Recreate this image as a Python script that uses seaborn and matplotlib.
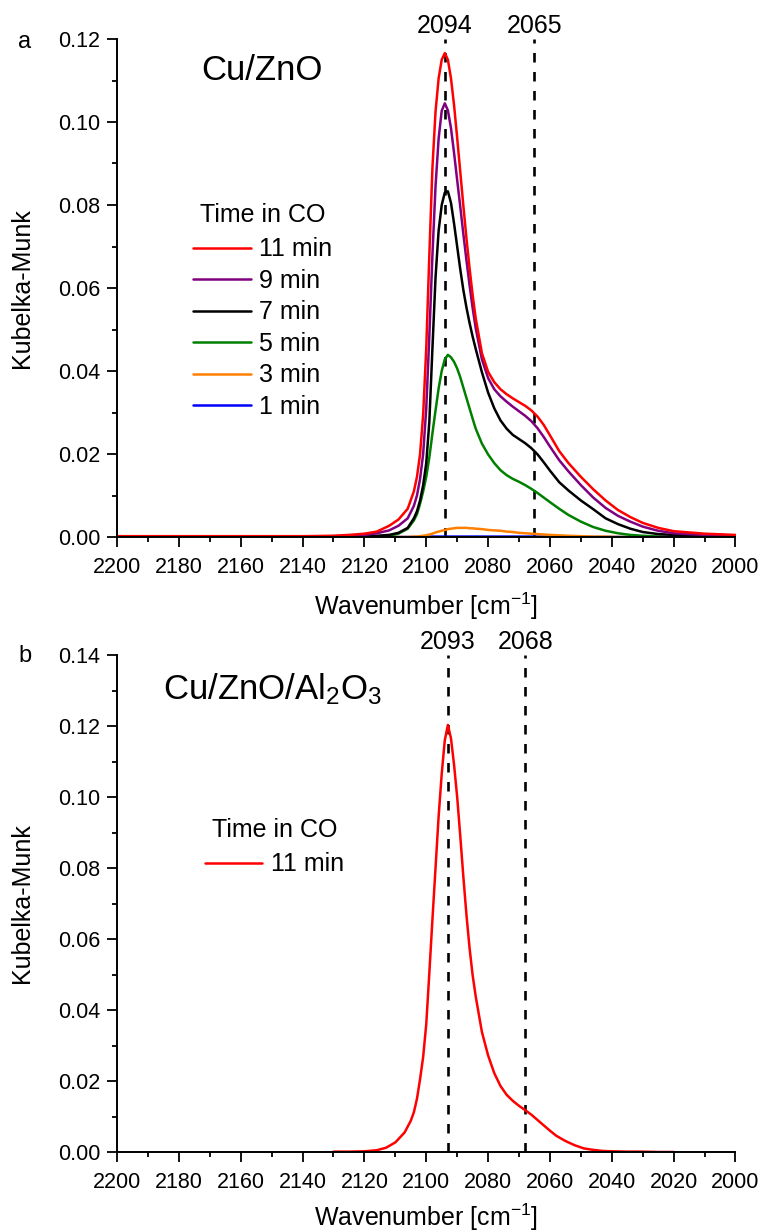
import numpy as np
import pandas as pd
import matplotlib
matplotlib.use("Agg")
import matplotlib.pyplot as plt
from matplotlib.ticker import MultipleLocator, FormatStrFormatter
import seaborn as sns

# ---------------- data ----------------
wn_a = [2200, 2180, 2160, 2140, 2130, 2125, 2120, 2116, 2112, 2109, 2106, 2104, 2103,
        2102, 2101, 2100, 2099, 2098, 2097, 2096, 2095, 2094, 2093, 2092, 2091, 2090,
        2089, 2088, 2087, 2086, 2085, 2084, 2082, 2080, 2078, 2076, 2074, 2072, 2070,
        2068, 2066, 2064, 2062, 2060, 2057, 2054, 2050, 2046, 2042, 2038, 2034, 2030,
        2025, 2020, 2010, 2000]

km_11min = [0.0002, 0.0002, 0.0002, 0.0002, 0.0003, 0.0005, 0.0008, 0.0013, 0.0027, 0.0042,
            0.0068, 0.0110, 0.0145, 0.0200, 0.0295, 0.0455, 0.0680, 0.0890, 0.1025, 0.1105,
            0.1150, 0.1166, 0.1150, 0.1105, 0.1040, 0.0962, 0.0880, 0.0798, 0.0720, 0.0648,
            0.0583, 0.0527, 0.0443, 0.0398, 0.0373, 0.0356, 0.0344, 0.0334, 0.0325, 0.0316,
            0.0305, 0.0290, 0.0270, 0.0245, 0.0207, 0.0178, 0.0145, 0.0115, 0.0088, 0.0065,
            0.0048, 0.0034, 0.0022, 0.0014, 0.0008, 0.0005]

km_9min = [0.0001, 0.0001, 0.0001, 0.0001, 0.0002, 0.0003, 0.0005, 0.0009, 0.0016, 0.0027,
           0.0045, 0.0075, 0.0100, 0.0140, 0.0200, 0.0310, 0.0485, 0.0680, 0.0845, 0.0960,
           0.1027, 0.1045, 0.1028, 0.0985, 0.0925, 0.0860, 0.0796, 0.0730, 0.0667, 0.0607,
           0.0552, 0.0503, 0.0428, 0.0383, 0.0356, 0.0339, 0.0326, 0.0314, 0.0303, 0.0292,
           0.0279, 0.0262, 0.0241, 0.0218, 0.0185, 0.0158, 0.0125, 0.0095, 0.0070, 0.0051,
           0.0037, 0.0025, 0.0015, 0.0009, 0.0005, 0.0004]

km_7min = [0.0001, 0.0001, 0.0001, 0.0001, 0.0001, 0.0001, 0.0002, 0.0003, 0.0005, 0.0010,
           0.0022, 0.0045, 0.0062, 0.0088, 0.0125, 0.0178, 0.0278, 0.0455, 0.0625, 0.0738,
           0.0800, 0.0830, 0.0833, 0.0805, 0.0755, 0.0700, 0.0645, 0.0595, 0.0553, 0.0516,
           0.0483, 0.0453, 0.0397, 0.0348, 0.0310, 0.0281, 0.0261, 0.0246, 0.0236, 0.0226,
           0.0214, 0.0199, 0.0180, 0.0160, 0.0132, 0.0112, 0.0088, 0.0067, 0.0045, 0.0031,
           0.0020, 0.0012, 0.0007, 0.0005, 0.0003, 0.0002]

km_5min = [0.0, 0.0, 0.0, 0.0, 0.0, 0.0, 0.0, 0.0001, 0.0003, 0.0008,
           0.0020, 0.0040, 0.0055, 0.0080, 0.0110, 0.0145, 0.0192, 0.0250, 0.0305, 0.0358,
           0.0400, 0.0428, 0.0439, 0.0433, 0.0422, 0.0406, 0.0385, 0.0360, 0.0335, 0.0310,
           0.0285, 0.0261, 0.0225, 0.0199, 0.0178, 0.0161, 0.0149, 0.0140, 0.0133, 0.0125,
           0.0116, 0.0106, 0.0095, 0.0084, 0.0068, 0.0053, 0.0037, 0.0024, 0.0015, 0.0009,
           0.0005, 0.0003, 0.0001, 0.0, 0.0, 0.0]

km_3min = [0.0, 0.0, 0.0, 0.0, 0.0, 0.0, 0.0, 0.0, 0.0, 0.0,
           0.0, 0.0001, 0.0001, 0.0002, 0.0003, 0.0004, 0.0006, 0.0008, 0.0011, 0.0013,
           0.0015, 0.0017, 0.0019, 0.0020, 0.0021, 0.0022, 0.0022, 0.0022, 0.0022, 0.0021,
           0.0021, 0.0020, 0.0019, 0.0017, 0.0016, 0.0015, 0.0013, 0.0012, 0.0010, 0.0009,
           0.0008, 0.0007, 0.0006, 0.0005, 0.0004, 0.0003, 0.0002, 0.0001, 0.0001, 0.0,
           0.0, 0.0, 0.0, 0.0, 0.0, 0.0]

km_1min = [0.0, 0.0, 0.0, 0.0, 0.0, 0.0, 0.0, 0.0, 0.0, 0.0,
           0.0, 0.0, 0.0, 0.0, 0.0001, 0.0001, 0.0001, 0.0001, 0.0001, 0.0001,
           0.0001, 0.0001, 0.0001, 0.0001, 0.0001, 0.0001, 0.0001, 0.0001, 0.0001, 0.0001,
           0.0001, 0.0001, 0.0001, 0.0001, 0.0001, 0.0001, 0.0001, 0.0001, 0.0001, 0.0001,
           0.0001, 0.0001, 0.0001, 0.0001, 0.0, 0.0, 0.0, 0.0, 0.0, 0.0,
           0.0, 0.0, 0.0, 0.0, 0.0, 0.0]

series_labels_a = ["11 min", "9 min", "7 min", "5 min", "3 min", "1 min"]
series_colors_a = ["#FF0000", "#800080", "#000000", "#008000", "#FF8000", "#0000FF"]

wn_b = [2130, 2125, 2120, 2116, 2113, 2110, 2107, 2105, 2104, 2103, 2102, 2101, 2100,
        2099, 2098, 2097, 2096, 2095, 2094, 2093, 2092, 2091, 2090, 2089, 2088, 2087,
        2086, 2085, 2084, 2082, 2080, 2078, 2076, 2074, 2072, 2070, 2068, 2066, 2064,
        2062, 2060, 2058, 2055, 2052, 2049, 2046, 2043, 2040, 2035, 2030, 2025, 2020]
km_b_11min = [0.0001, 0.0001, 0.0002, 0.0005, 0.0012, 0.0027, 0.0055, 0.0088, 0.0112, 0.0150,
              0.0205, 0.0268, 0.0360, 0.0505, 0.0655, 0.0800, 0.0945, 0.1065, 0.1160, 0.1203,
              0.1165, 0.1090, 0.1000, 0.0890, 0.0775, 0.0668, 0.0575, 0.0498, 0.0438, 0.0338,
              0.0272, 0.0222, 0.0186, 0.0161, 0.0144, 0.0130, 0.0118, 0.0105, 0.0090, 0.0075,
              0.0060, 0.0046, 0.0031, 0.0019, 0.0010, 0.0006, 0.0003, 0.0002, 0.0001, 0.0001,
              0.0, 0.0]

peaks_a = [2094, 2065]
peaks_b = [2093, 2068]

# ---------------- style ----------------
sns.set_theme(style="ticks")
plt.rcParams["font.family"] = ["Liberation Sans", "DejaVu Sans"]
plt.rcParams["mathtext.fontset"] = "custom"
plt.rcParams["mathtext.rm"] = "Liberation Sans"
plt.rcParams["mathtext.it"] = "Liberation Sans:italic"
plt.rcParams["mathtext.bf"] = "Liberation Sans:bold"
plt.rcParams["axes.unicode_minus"] = True
for k in ["text.color", "axes.labelcolor", "xtick.color", "ytick.color",
          "axes.edgecolor", "legend.labelcolor"]:
    plt.rcParams[k] = "black"

W, H = 760, 1231
fig = plt.figure(figsize=(W / 100, H / 100), dpi=100)

def px_axes(left, top, right, bottom):
    return fig.add_axes([left / W, 1 - bottom / H, (right - left) / W, (bottom - top) / H])

ax_a = px_axes(117, 39, 735.5, 537)
ax_b = px_axes(117, 655, 735.5, 1152)

def style_axes(ax, ymax, xlabelpad):
    ax.set_xlim(2200, 2000)
    ax.set_ylim(0, ymax)
    ax.xaxis.set_major_locator(MultipleLocator(20))
    ax.xaxis.set_minor_locator(MultipleLocator(10))
    ax.yaxis.set_major_locator(MultipleLocator(0.02))
    ax.yaxis.set_minor_locator(MultipleLocator(0.01))
    ax.yaxis.set_major_formatter(FormatStrFormatter("%.2f"))
    for s in ["top", "right"]:
        ax.spines[s].set_visible(False)
    for s in ["left", "bottom"]:
        ax.spines[s].set_linewidth(1.4)
        ax.spines[s].set_color("black")
    ax.tick_params(which="major", direction="out", length=7, width=1.3,
                   labelsize=15.5, colors="black")
    ax.tick_params(axis="x", which="major", pad=7.5)
    ax.tick_params(axis="y", which="major", pad=5)
    ax.tick_params(which="minor", direction="out", length=3.5, width=1.3, colors="black")
    ax.set_xlabel("Wavenumber [cm$\\mathregular{^{-1}}$]", fontsize=18,
                  labelpad=xlabelpad, color="black")
    ax.set_ylabel("Kubelka-Munk", fontsize=18, color="black")
    ax.yaxis.set_label_coords(-0.134, 0.5)
    ax.set_facecolor("white")
    ax.grid(False)

def make_legend(ax, handles, labels, anchor):
    leg = ax.legend(handles, labels, title="Time in CO", loc="upper left",
                    bbox_to_anchor=anchor, frameon=False, fontsize=18,
                    title_fontsize=18, handlelength=2.3, handletextpad=0.35,
                    labelspacing=0.30, borderpad=0, borderaxespad=0)
    leg.get_title().set_color("black")
    leg._legend_box.sep = 7.5
    return leg

LW = 1.8
# ---------------- panel a ----------------
series_a = [km_11min, km_9min, km_7min, km_5min, km_3min, km_1min]
for vals, lab, col in reversed(list(zip(series_a, series_labels_a, series_colors_a))):
    df = pd.DataFrame({"wn": wn_a, "km": vals})
    sns.lineplot(data=df, x="wn", y="km", color=col, lw=LW, ax=ax_a,
                 estimator=None, label=lab)
for pk in peaks_a:
    ax_a.axvline(pk, color="black", lw=1.9, ls=(0, (3.6, 3.6)), zorder=1)
    ax_a.text(pk, 1.026, str(pk), transform=ax_a.get_xaxis_transform(),
              ha="center", va="center", fontsize=18, color="black")
style_axes(ax_a, 0.12, 9)
h, l = ax_a.get_legend_handles_labels()
order = [l.index(s) for s in series_labels_a]
make_legend(ax_a, [h[i] for i in order], [l[i] for i in order], (0.123, 0.671))
ax_a.text(0.137, 0.936, "Cu/ZnO", transform=ax_a.transAxes, fontsize=25,
          ha="left", va="center", color="black")
fig.text(25 / W, 1 - 42 / H, "a", fontsize=17, ha="center", va="center", color="black")

# ---------------- panel b ----------------
df_b = pd.DataFrame({"wn": wn_b, "km": km_b_11min})
sns.lineplot(data=df_b, x="wn", y="km", color="#FF0000", lw=LW, ax=ax_b,
             estimator=None, label="11 min")
for pk in peaks_b:
    ax_b.axvline(pk, color="black", lw=1.9, ls=(0, (3.6, 3.6)), zorder=1)
    ax_b.text(pk, 1.026, str(pk), transform=ax_b.get_xaxis_transform(),
              ha="center", va="center", fontsize=18, color="black")
style_axes(ax_b, 0.14, 6)
hb, lb = ax_b.get_legend_handles_labels()
make_legend(ax_b, hb, lb, (0.142, 0.672))
ax_b.text(0.074, 0.931, "Cu/ZnO/Al$\\mathregular{_2}$O$\\mathregular{_3}$",
          transform=ax_b.transAxes, fontsize=25, ha="left", va="center", color="black")
fig.text(25 / W, 1 - 656 / H, "b", fontsize=17, ha="center", va="center", color="black")

fig.savefig("out.png", dpi=100, facecolor="white")
